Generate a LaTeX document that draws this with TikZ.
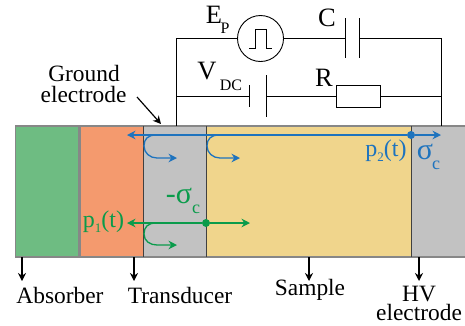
\documentclass[tikz,border=0pt]{standalone}
\usepackage{fontspec}
\setmainfont{Liberation Serif}
\usetikzlibrary{arrows.meta}
\definecolor{absorbercolor}{RGB}{110,188,130}
\definecolor{transducercolor}{RGB}{244,154,110}
\definecolor{electrodecolor}{RGB}{194,194,194}
\definecolor{samplecolor}{RGB}{240,213,140}
\definecolor{layeredge}{RGB}{135,135,135}
\definecolor{bluewave}{RGB}{30,115,190}
\definecolor{greenwave}{RGB}{10,155,75}
\newcommand{\psub}[1]{p\raisebox{-5pt}{\fontsize{13}{14}\selectfont #1}(t)}
\tikzset{
  wire/.style = {draw = black, line width = 0.9pt},
  pointer/.style = {draw = black, line width = 1.2pt, -{Stealth[length = 8pt, width = 8pt]}},
  layer/.style = {draw = layeredge, line width = 1.2pt},
  wave/.style = {line width = 1.3pt, -{Stealth[length = 8.5pt, width = 8.5pt]}},
  bigtext/.style = {inner sep = 0pt, font = \fontsize{26.5}{28}\selectfont},
  lowtext/.style = {inner sep = 0pt, font = \fontsize{23.4}{25}\selectfont},
  twolines/.style = {inner sep = 0pt, align = center, font = \fontsize{23.4}{19}\selectfont},
  subtext/.style = {inner sep = 0pt, font = \fontsize{16}{17}\selectfont},
  ptext/.style = {inner sep = 0pt, font = \fontsize{24}{25}\selectfont},
  sigmatext/.style = {inner sep = 0pt, font = \fontsize{30}{31}\selectfont},
  csub/.style = {inner sep = 0pt, font = \fontsize{18}{19}\selectfont},
  spot/.style = {circle, inner sep = 0pt, minimum size = 8pt}
}
\begin{document}
\begin{tikzpicture}[x = 1pt, y = -1pt]
\useasboundingbox (0,0) rectangle (465,325);
\foreach \xa/\xb/\c in {15.5/79/absorbercolor, 80/143.5/transducercolor, 143.5/206.5/electrodecolor, 206.5/411.5/samplecolor, 411.5/466/electrodecolor}
  \draw [layer, fill = \c] (\xa,126) rectangle (\xb,257);
\foreach \x in {143.5,206.5,411.5} \draw [draw = black!75, line width = 0.9pt] (\x,126) -- (\x,257);

\node [circle, wire, minimum size = 46pt, inner sep = 0pt] (source) at (260.5,38.5) {};
\draw [wire] (249,48.5) -- (255.5,48.5) -- (255.5,29) -- (266,29) -- (266,48.5) -- (272,48.5);
\coordinate (groundtop) at (176.5,126);
\coordinate (hvtop) at (441,126);
\coordinate (capleft) at (345,38.5);
\coordinate (capright) at (359,38.5);
\coordinate (batleft) at (249.5,96.5);
\coordinate (batright) at (266,96.5);
\node [rectangle, wire, minimum width = 43.5pt, minimum height = 21.5pt, inner sep = 0pt] (resistor) at (358.5,96.5) {};
\draw [wire] (groundtop) -- (176.5,38.5) -- (source.west);
\draw [wire] (source.east) -- (capleft);
\draw [wire] (capright) -- (441,38.5) -- (hvtop);
\draw [wire] (176.5,96.5) -- (batleft);
\draw [wire] (batright) -- (resistor.west);
\draw [wire] (resistor.east) -- (441,96.5);
\draw [wire] (345,18) -- (345,58);
\draw [wire] (359,18) -- (359,58);
\draw [wire] (249.5,85) -- (249.5,107);
\draw [wire] (266,75) -- (266,117);

\node [bigtext] (ep) at (214,15) {E};
\node [subtext] (epsub) at (225,28) {P};
\node [bigtext] (clabel) at (327,18) {C};
\node [bigtext] (vdc) at (207,71) {V};
\node [subtext] (vdcsub) at (231,85) {DC};
\node [bigtext] (rlabel) at (324,78) {R};
\node [lowtext] (groundone) at (84,73) {Ground};
\node [lowtext] (groundtwo) at (83.5,94) {electrode};
\coordinate (groundtip) at (161,124);
\coordinate (groundfoot) at (137,97);
\draw [pointer] (groundfoot) -- (groundtip);

\foreach \x/\tx/\name/\y/\n in {22/60/Absorber/295/absorberlabel, 134/180/Transducer/295/transducerlabel, 309/310/Sample/290/samplelabel} {
  \node [lowtext] (\n) at (\tx,\y) {\name};
  \draw [pointer] (\x,257) -- (\x,281);
}
\node [twolines] (hvlabel) at (419,303.5) {HV\\electrode};
\draw [pointer] (419,257) -- (419,281);

\node [spot, fill = bluewave] (bluedot) at (411,135) {};
\coordinate (blueleft) at (127,135);
\coordinate (blueright) at (441,135);
\draw [wave, bluewave] (bluedot) -- (blueleft);
\draw [wave, bluewave] (bluedot) -- (blueright);
\foreach \x in {144,207}
  \draw [wave, bluewave] (\x+12,135) .. controls (\x+4,135) and (\x,139) .. (\x,146) .. controls (\x,153) and (\x+6,158) .. (\x+13,158) -- (\x+33,158);
\node [ptext, text = bluewave] (ptwo) at (386,151) {\psub{2}};
\node [sigmatext, text = bluewave] (sigmaup) at (425,152) {σ};
\node [csub, text = bluewave] (sigmaupsub) at (436,165) {c};

\node [spot, fill = greenwave] (greendot) at (206,223) {};
\coordinate (greenleft) at (127,223);
\coordinate (greenright) at (250,223);
\draw [wave, greenwave] (greendot) -- (greenleft);
\draw [wave, greenwave] (greendot) -- (greenright);
\draw [wave, greenwave] (156,223) .. controls (148,223) and (144,227) .. (144,234) .. controls (144,241) and (150,245) .. (157,245) -- (177,245);
\node [ptext, text = greenwave] (pone) at (103.5,222) {\psub{1}};
\node [sigmatext, text = greenwave] (sigmadown) at (179,196) {-σ};
\node [csub, text = greenwave] (sigmadownsub) at (196,209) {c};
\end{tikzpicture}
\end{document}
